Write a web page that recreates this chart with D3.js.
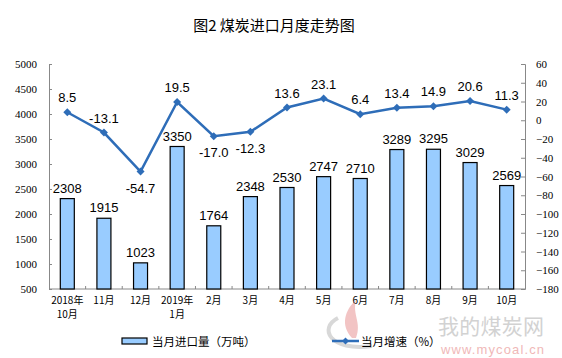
<html>
<head>
<meta charset="utf-8">
<script src="https://cdn.jsdelivr.net/npm/d3@7"></script>
<style>
  body { margin: 0; background: #fff; }
  .cjk { font-family: "Noto Sans CJK SC", sans-serif; }
  .num { font-family: "Liberation Sans", Arial, sans-serif; }
  .tick text { font-family: "Liberation Serif", "Times New Roman", serif; font-size: 11px; fill: #000; }
</style>
</head>
<body>
<div id="chart"></div>
<script>
const months = ["2018年|10月", "11月", "12月", "2019年|1月", "2月", "3月", "4月", "5月", "6月", "7月", "8月", "9月", "10月"];
const imports = [2308, 1915, 1023, 3350, 1764, 2348, 2530, 2747, 2710, 3289, 3295, 3029, 2569];
const growth = [8.5, -13.1, -54.7, 19.5, -17.0, -12.3, 13.6, 23.1, 6.4, 13.4, 14.9, 20.6, 11.3];
// labels below the point for these
const below = [false, false, true, false, true, true, false, false, false, false, false, false, false];
const leftTicks = [500, 1000, 1500, 2000, 2500, 3000, 3500, 4000, 4500, 5000];
const rightTicks = [60, 40, 20, 0, -20, -40, -60, -80, -100, -120, -140, -160, -180];

const W = 562, H = 358;
const L = 49, R = 525, T = 64, B = 289;

const svg = d3.select("#chart").append("svg")
  .attr("width", W).attr("height", H);

// watermark
const wm = svg.append("g");
wm.append("path")
  .attr("d", "M338,318 C318,328 330,352 372,346")
  .attr("fill", "none").attr("stroke", "#d8d8d8").attr("stroke-width", 4);
wm.append("path")
  .attr("d", "M352,338 C340,325 345,310 356,300 C352,315 362,322 356,338 Z")
  .attr("fill", "#f2c4c4");
wm.append("text").attr("class", "cjk")
  .attr("x", 438).attr("y", 334).attr("font-size", 21).attr("fill", "#d2d2d2")
  .attr("textLength", 106)
  .text("我的煤炭网");
wm.append("text").attr("class", "num")
  .attr("x", 441).attr("y", 354).attr("font-size", 13).attr("fill", "#f0b8b8")
  .attr("textLength", 103)
  .text("www.mycoal.cn");

svg.append("text").attr("class", "cjk")
  .attr("x", 274).attr("y", 31)
  .attr("text-anchor", "middle").attr("font-size", 15)
  .text("图2 煤炭进口月度走势图");

const x = d3.scaleBand().domain(d3.range(months.length)).range([L, R]);
const yL = d3.scaleLinear().domain([500, 5000]).range([B, T]);
const yR = d3.scaleLinear().domain([-180, 60]).range([B, T]);

svg.append("g").attr("transform", `translate(${L},0)`)
  .call(d3.axisLeft(yL).tickValues(leftTicks).tickFormat(d3.format("d"))
    .tickSizeInner(-3).tickSizeOuter(-3).tickPadding(12))
  .call(g => g.selectAll("path,line").attr("stroke", "#888"));

svg.append("g").attr("transform", `translate(${R},0)`)
  .call(d3.axisRight(yR).tickValues(rightTicks).tickFormat(d3.format("d"))
    .tickSizeInner(-4).tickSizeOuter(-4).tickPadding(11))
  .call(g => g.selectAll("path,line").attr("stroke", "#888"));

// bottom axis with ticks at band boundaries
const xb = svg.append("g");
xb.append("line").attr("x1", L).attr("x2", R).attr("y1", B).attr("y2", B).attr("stroke", "#888");
xb.selectAll("line.t").data(d3.range(1, months.length)).join("line")
  .attr("x1", i => x(i)).attr("x2", i => x(i))
  .attr("y1", B).attr("y2", B - 3).attr("stroke", "#888");

const bw = 14;
svg.selectAll("rect.bar").data(imports).join("rect")
  .attr("x", (d, i) => x(i) + x.bandwidth() / 2 - bw / 2)
  .attr("y", d => yL(d))
  .attr("width", bw)
  .attr("height", d => B - yL(d))
  .attr("fill", "#99ccff").attr("stroke", "#000").attr("stroke-width", 1.2);

svg.selectAll("text.bl").data(imports).join("text").attr("class", "num")
  .attr("x", (d, i) => x(i) + x.bandwidth() / 2)
  .attr("y", d => yL(d) - 6)
  .attr("text-anchor", "middle").attr("font-size", 13)
  .text(d => d);

const line = d3.line()
  .x((d, i) => x(i) + x.bandwidth() / 2)
  .y(d => yR(d));
svg.append("path").datum(growth)
  .attr("d", line).attr("fill", "none")
  .attr("stroke", "#2e6db8").attr("stroke-width", 2.5);

svg.selectAll("path.mk").data(growth).join("path")
  .attr("transform", (d, i) => `translate(${x(i) + x.bandwidth() / 2},${yR(d)})`)
  .attr("d", "M0,-4L4,0L0,4L-4,0Z").attr("fill", "#2e6db8");

svg.selectAll("text.ll").data(growth).join("text").attr("class", "num")
  .attr("x", (d, i) => x(i) + x.bandwidth() / 2)
  .attr("y", (d, i) => below[i] ? yR(d) + 21 : yR(d) - 10)
  .attr("text-anchor", "middle").attr("font-size", 13)
  .text(d => d.toFixed(1));

// category labels (one text per line)
months.forEach((d, i) => {
  d.split("|").forEach((p, k) => {
    svg.append("text").attr("class", "cjk")
      .attr("font-size", 10)
      .attr("text-anchor", "middle")
      .attr("x", x(i) + x.bandwidth() / 2)
      .attr("y", 304 + k * 13.5)
      .text(p);
  });
});

// legend
const lg = svg.append("g");
lg.append("rect").attr("x", 122).attr("y", 338).attr("width", 25).attr("height", 6)
  .attr("fill", "#99ccff").attr("stroke", "#000").attr("stroke-width", 1.2);
lg.append("text").attr("class", "cjk").attr("x", 152).attr("y", 345.5)
  .attr("font-size", 11.5).text("当月进口量（万吨）");
lg.append("line").attr("x1", 332).attr("x2", 359).attr("y1", 341).attr("y2", 341)
  .attr("stroke", "#2e6db8").attr("stroke-width", 2.5);
lg.append("path").attr("transform", "translate(345.5,341)")
  .attr("d", "M0,-3.5L3.5,0L0,3.5L-3.5,0Z").attr("fill", "#2e6db8");
lg.append("text").attr("class", "cjk").attr("x", 361).attr("y", 345.5)
  .attr("font-size", 11.5).text("当月增速（%）");
</script>
</body>
</html>
